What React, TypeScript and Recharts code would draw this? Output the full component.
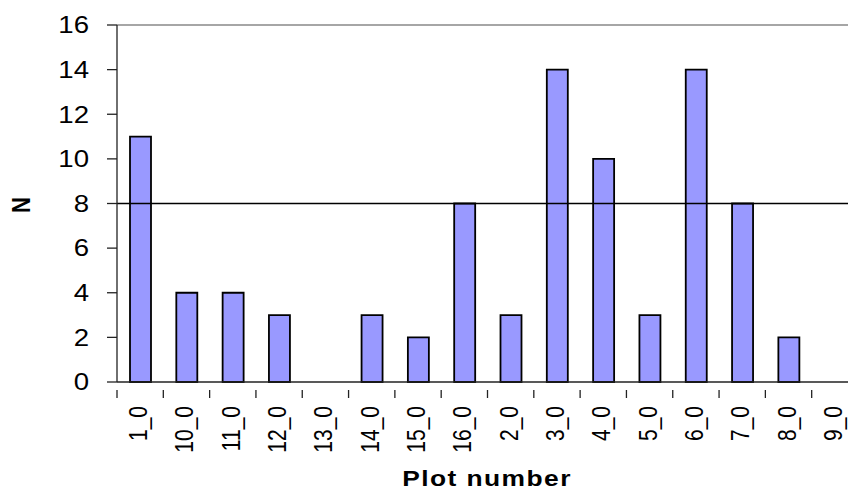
import { BarChart, Bar, XAxis, YAxis, ReferenceLine } from "recharts";

const plots = [
  "1_0", "10_0", "11_0", "12_0", "13_0", "14_0", "15_0", "16_0",
  "2_0", "3_0", "4_0", "5_0", "6_0", "7_0", "8_0", "9_0",
];
const counts = [11, 4, 4, 3, 0, 3, 2, 8, 3, 14, 10, 3, 14, 8, 2, 0];
const yTicks = [0, 2, 4, 6, 8, 10, 12, 14, 16];
const threshold = 8;

const data = plots.map((p, i) => ({ plot: p, n: counts[i] }));

const FONT = "'Liberation Sans', Arial, sans-serif";
const SX = 1.2;
const CHART_W = 870;
const LEFT = 117;
const RIGHT_MARGIN = 12;
const BAND = (CHART_W - LEFT - RIGHT_MARGIN) / plots.length;

const YTick = ({ x, y, payload }: any) => (
  <text
    transform={`translate(${x},${y}) scale(${SX},1)`}
    textAnchor="end"
    dy="0.36em"
    fontSize={23}
    fontFamily={FONT}
    fill="#000"
  >
    {payload.value}
  </text>
);

const XTick = ({ x, y, payload }: any) => (
  <g>
    <line x1={x - BAND / 2} x2={x - BAND / 2} y1={y} y2={y + 8} stroke="#222" strokeWidth={1.3} />
    <text
      transform={`translate(${x + 7},${y + 16}) scale(${SX},1) rotate(-90)`}
      textAnchor="end"
      fontSize={21}
      fontFamily={FONT}
      fill="#000"
    >
      {payload.value}
    </text>
  </g>
);

export default function App() {
  return (
    <div
      style={{
        position: "absolute",
        left: 0,
        top: 0,
        width: 848,
        height: 492,
        overflow: "hidden",
        background: "#fff",
      }}
    >
      <BarChart
        width={CHART_W}
        height={492}
        data={data}
        margin={{ top: 25, right: RIGHT_MARGIN, bottom: 0, left: 0 }}
      >
        <XAxis
          dataKey="plot"
          height={110}
          interval={0}
          tickLine={false}
          axisLine={{ stroke: "#222", strokeWidth: 1.3 }}
          tick={<XTick />}
        />
        <YAxis
          width={LEFT}
          domain={[0, 16]}
          ticks={yTicks}
          interval={0}
          tickSize={10}
          tickMargin={18}
          tickLine={{ stroke: "#222", strokeWidth: 1.3 }}
          axisLine={{ stroke: "#222", strokeWidth: 1.3 }}
          tick={<YTick />}
        />
        <ReferenceLine y={16} stroke="#888" strokeWidth={1.5} />
        <Bar
          dataKey="n"
          fill="#9999FF"
          stroke="#000"
          strokeWidth={1.8}
          barSize={21}
          isAnimationActive={false}
        />
        <ReferenceLine y={threshold} stroke="#000" strokeWidth={1.4} />
        <text
          transform={`translate(30,205) scale(${SX},1) rotate(-90)`}
          textAnchor="middle"
          fontSize={22}
          fontWeight="bold"
          fontFamily={FONT}
          fill="#000"
        >
          N
        </text>
        <text
          transform={`translate(487,486) scale(${SX},1)`}
          textAnchor="middle"
          fontSize={22}
          fontWeight="bold"
          fontFamily={FONT}
          letterSpacing={1.2}
          fill="#000"
        >
          Plot number
        </text>
      </BarChart>
    </div>
  );
}
